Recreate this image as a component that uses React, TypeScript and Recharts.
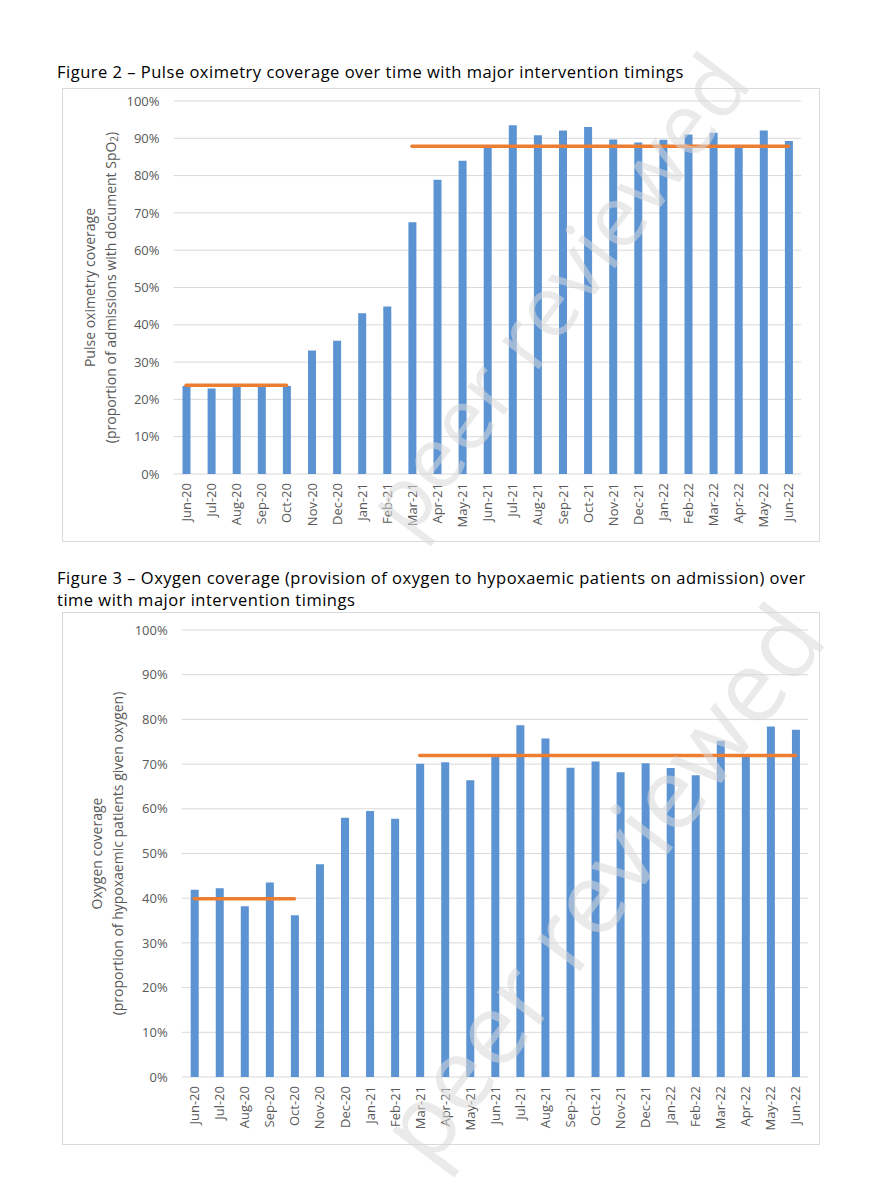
import React from 'react';
import { ComposedChart, Bar, Line, XAxis, YAxis, CartesianGrid, Label } from 'recharts';

const months = [
  'Jun-20', 'Jul-20', 'Aug-20', 'Sep-20', 'Oct-20', 'Nov-20', 'Dec-20',
  'Jan-21', 'Feb-21', 'Mar-21', 'Apr-21', 'May-21', 'Jun-21', 'Jul-21', 'Aug-21',
  'Sep-21', 'Oct-21', 'Nov-21', 'Dec-21', 'Jan-22', 'Feb-22', 'Mar-22', 'Apr-22',
  'May-22', 'Jun-22',
];

const percentTicks = [0, 10, 20, 30, 40, 50, 60, 70, 80, 90, 100];
const edgeTicks = [0, 1, 2, 3, 4, 5, 6, 7, 8, 9, 10, 11, 12, 13, 14, 15, 16, 17, 18, 19, 20, 21, 22, 23, 24, 25];

// Figure 2 - pulse oximetry coverage (%)
const pulseCoverage = [
  23.6, 22.9, 23.4, 23.4, 23.6, 33.1, 35.7, 43.1, 44.9, 67.5, 78.9, 84.0, 88.0,
  93.5, 90.8, 92.1, 93.0, 89.7, 88.9, 89.6, 91.0, 91.5, 87.5, 92.1, 89.3,
];
const pulseBefore = [
  23.8, 23.8, 23.8, 23.8, 23.8, null, null, null, null, null, null, null, null,
  null, null, null, null, null, null, null, null, null, null, null, null,
];
const pulseAfter = [
  null, null, null, null, null, null, null, null, null, 87.9, 87.9, 87.9, 87.9,
  87.9, 87.9, 87.9, 87.9, 87.9, 87.9, 87.9, 87.9, 87.9, 87.9, 87.9, 87.9,
];

// Figure 3 - oxygen coverage (%)
const oxygenCoverage = [
  41.9, 42.2, 38.2, 43.5, 36.2, 47.6, 58.0, 59.5, 57.8, 70.1, 70.4, 66.4, 71.8,
  78.7, 75.7, 69.2, 70.6, 68.2, 70.2, 69.1, 67.5, 75.2, 71.6, 78.4, 77.7,
];
const oxygenBefore = [
  39.9, 39.9, 39.9, 39.9, 39.9, null, null, null, null, null, null, null, null,
  null, null, null, null, null, null, null, null, null, null, null, null,
];
const oxygenAfter = [
  null, null, null, null, null, null, null, null, null, 71.9, 71.9, 71.9, 71.9,
  71.9, 71.9, 71.9, 71.9, 71.9, 71.9, 71.9, 71.9, 71.9, 71.9, 71.9, 71.9,
];

const FONT = "'Open Sans', sans-serif";
const GREY_TEXT = '#595959';
const BAR_BLUE = '#5B93D3';
const ORANGE = '#ED7D31';

const MonthTick = (props: any) => {
  const { x, y, payload } = props;
  return (
    <text
      x={x}
      y={y}
      transform={`rotate(-90, ${x}, ${y})`}
      textAnchor="end"
      dominantBaseline="central"
      fill={GREY_TEXT}
      fontSize={13}
      fontFamily={FONT}
    >
      {payload.value}
    </text>
  );
};

const AxisTitle = (props: any) => {
  const { viewBox, first, second, x1, x2 } = props;
  const cy = viewBox.y + viewBox.height / 2;
  const common = {
    textAnchor: 'middle' as const,
    dominantBaseline: 'central' as const,
    fill: GREY_TEXT,
    fontSize: 14,
    fontFamily: FONT,
  };
  return (
    <g>
      <text x={x1} y={cy} transform={`rotate(-90, ${x1}, ${cy})`} {...common}>
        {first}
      </text>
      <text x={x2} y={cy} transform={`rotate(-90, ${x2}, ${cy})`} {...common}>
        {second}
      </text>
    </g>
  );
};

type PanelProps = {
  values: number[];
  before: (number | null)[];
  after: (number | null)[];
  width: number;
  height: number;
  margin: { top: number; right: number; bottom: number; left: number };
  yAxisWidth: number;
  title: React.ReactNode[];
  titleX: [number, number];
};

const Panel = ({ values, before, after, width, height, margin, yAxisWidth, title, titleX }: PanelProps) => {
  const data = months.map((month, i) => ({
    month,
    value: values[i],
    before: before[i],
    after: after[i],
  }));
  return (
    <ComposedChart width={width} height={height} data={data} margin={margin}>
      <CartesianGrid vertical={false} stroke="#D9D9D9" yAxisId="pct" xAxisId="months" />
      <XAxis
        xAxisId="edges"
        type="number"
        domain={[0, months.length]}
        ticks={edgeTicks}
        allowDataOverflow
        tick={false}
        tickSize={4}
        height={0}
        axisLine={{ stroke: '#D0D0D0' }}
        tickLine={{ stroke: '#C8C8C8' }}
      />
      <XAxis
        xAxisId="months"
        dataKey="month"
        interval={0}
        axisLine={false}
        tickLine={false}
        tickSize={0}
        tickMargin={9}
        height={58}
        tick={<MonthTick />}
      />
      <YAxis
        yAxisId="pct"
        domain={[0, 100]}
        ticks={percentTicks}
        width={yAxisWidth}
        axisLine={false}
        tickLine={false}
        tickSize={0}
        tickMargin={14}
        tickFormatter={(v) => `${v}%`}
        tick={{ fill: GREY_TEXT, fontSize: 13, fontFamily: FONT }}
      >
        <Label content={<AxisTitle first={title[0]} second={title[1]} x1={titleX[0]} x2={titleX[1]} />} />
      </YAxis>
      <Bar xAxisId="months" yAxisId="pct" dataKey="value" fill={BAR_BLUE} barSize={8} isAnimationActive={false} />
      <Line
        xAxisId="months"
        yAxisId="pct"
        dataKey="before"
        stroke={ORANGE}
        strokeWidth={3.5}
        strokeLinecap="round"
        dot={false}
        activeDot={false}
        isAnimationActive={false}
      />
      <Line
        xAxisId="months"
        yAxisId="pct"
        dataKey="after"
        stroke={ORANGE}
        strokeWidth={3.5}
        strokeLinecap="round"
        dot={false}
        activeDot={false}
        isAnimationActive={false}
      />
    </ComposedChart>
  );
};

const titleStyle: React.CSSProperties = {
  position: 'absolute',
  left: 57,
  fontFamily: FONT,
  fontSize: 16.5,
  letterSpacing: 0.5,
  lineHeight: '22px',
  color: '#000',
  whiteSpace: 'nowrap',
};

const frameStyle: React.CSSProperties = {
  position: 'absolute',
  left: 62,
  width: 758,
  boxSizing: 'border-box',
  border: '1px solid #D9D9D9',
  background: '#fff',
};

const watermark = {
  fontFamily: FONT,
  fill: '#D9D9D9',
  opacity: 0.55,
};

export default function App() {
  return (
    <div style={{ position: 'absolute', left: 0, top: 0, width: 881, height: 1200, background: '#fff', overflow: 'hidden' }}>
      <div style={{ ...titleStyle, top: 61 }}>
        Figure 2 – Pulse oximetry coverage over time with major intervention timings
      </div>
      <div style={{ ...frameStyle, top: 88, height: 454 }}>
        <div style={{ position: 'absolute', left: -1, top: -1 }}>
          <Panel
            values={pulseCoverage}
            before={pulseBefore}
            after={pulseAfter}
            width={758}
            height={454}
            margin={{ top: 13, right: 19, bottom: 10, left: 0 }}
            yAxisWidth={111.5}
            title={[
              'Pulse oximetry coverage',
              <>
                (proportion of admissions with document SpO
                <tspan fontSize={10} dy={4}>2</tspan>
                <tspan dy={-4}>)</tspan>
              </>,
            ]}
            titleX={[27, 48]}
          />
        </div>
      </div>

      <div style={{ ...titleStyle, top: 567 }}>
        Figure 3 – Oxygen coverage (provision of oxygen to hypoxaemic patients on admission) over
        <br />
        time with major intervention timings
      </div>
      <div style={{ ...frameStyle, top: 612, height: 533 }}>
        <div style={{ position: 'absolute', left: -1, top: -1 }}>
          <Panel
            values={oxygenCoverage}
            before={oxygenBefore}
            after={oxygenAfter}
            width={758}
            height={533}
            margin={{ top: 18, right: 12, bottom: 10, left: 0 }}
            yAxisWidth={119.7}
            title={['Oxygen coverage', '(proportion of hypoxaemic patients given oxygen)']}
            titleX={[34, 55]}
          />
        </div>
      </div>

      {/* faint "peer reviewed" watermark over both figures */}
      <svg width={881} height={1200} style={{ position: 'absolute', left: 0, top: 0, pointerEvents: 'none' }}>
        <text x={410} y={540} transform="rotate(-53, 410, 540)" fontSize={86} {...watermark}>
          peer reviewed
        </text>
        <text x={430} y={1170} transform="rotate(-53, 430, 1170)" fontSize={100} {...watermark}>
          peer reviewed
        </text>
      </svg>
    </div>
  );
}
